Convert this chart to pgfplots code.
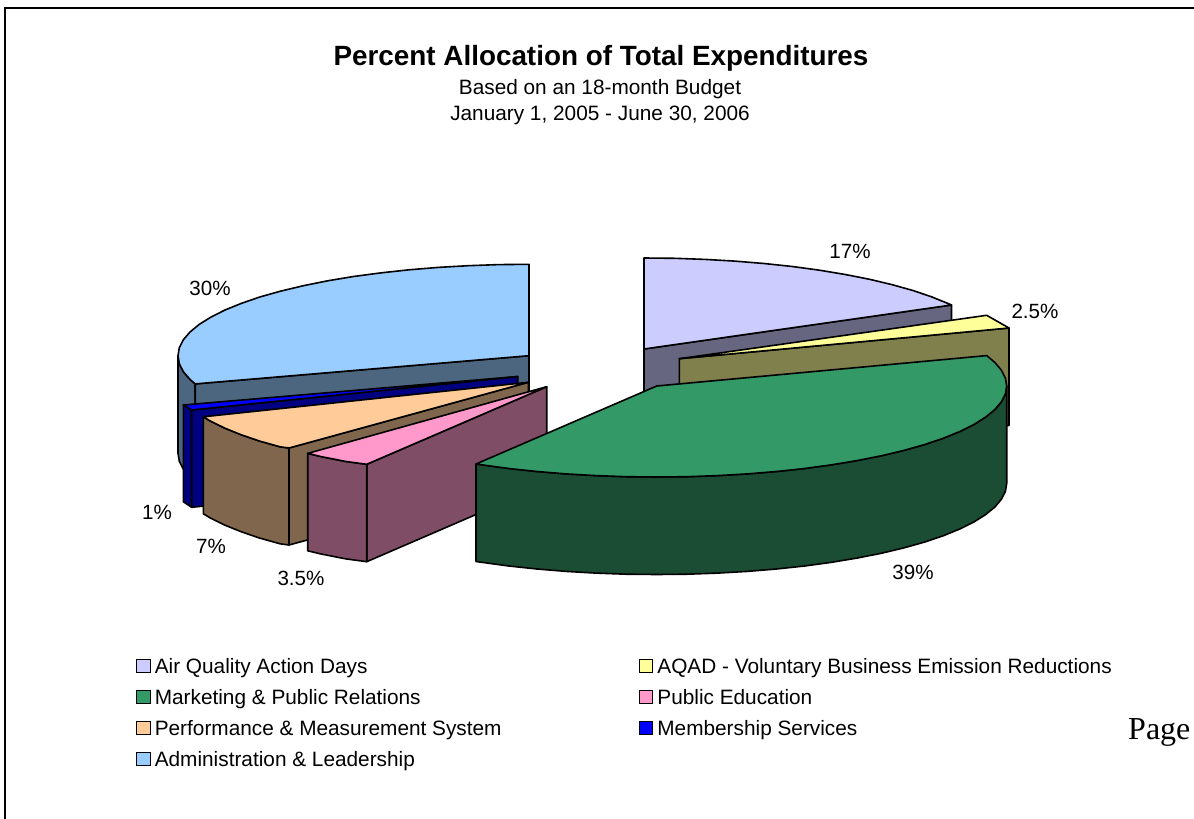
\documentclass[border=0pt]{standalone}
\usepackage{fontspec}
\usepackage{pgfplots}
\pgfplotsset{compat=1.18}
\setmainfont{Liberation Sans}
\newfontfamily\pageserif{Liberation Serif}
% slice colours and their shaded side faces
\definecolor{airtop}{HTML}{CCCCFF}\definecolor{airside}{HTML}{666680}
\definecolor{aqadtop}{HTML}{FFFF99}\definecolor{aqadside}{HTML}{80804D}
\definecolor{mkttop}{HTML}{339966}\definecolor{mktside}{HTML}{1A4D33}
\definecolor{edutop}{HTML}{FF99CC}\definecolor{eduside}{HTML}{804D66}
\definecolor{perftop}{HTML}{FFCC99}\definecolor{perfside}{HTML}{80664D}
\definecolor{memtop}{HTML}{0000FF}\definecolor{memside}{HTML}{000080}
\definecolor{admtop}{HTML}{99CCFF}\definecolor{admside}{HTML}{4D6680}
\pgfplotsset{
  slice/.style={fill=#1,draw=black,line width=1.6pt,line join=round,forget plot},
  swatch/.style={legend image code/.code={
    \draw[fill=#1,draw=black,line width=1.3pt] (0pt,-4pt) rectangle (13.5pt,9pt);}},
}
\begin{document}
\begin{tikzpicture}
\begin{axis}[
  scale only axis,width=1194pt,height=819pt,
  xmin=0,xmax=1194,ymin=0,ymax=819,y dir=reverse,
  axis lines=none,
  legend columns=2,
  legend cell align=left,
  legend style={
    at={(axis cs:136,659)},anchor=north west,draw=none,fill=none,
    font=\fontsize{20.8}{24}\selectfont,
    inner sep=0pt,outer sep=0pt,
    row sep=12.1pt,
    nodes={inner sep=0pt,anchor=west,text height=14.5pt,text depth=4pt},
    /tikz/every odd column/.append style={column sep=4pt},
    /tikz/every even column/.append style={column sep=137pt},
  },
]
% keeps the whole page inside the picture's bounding box
\addplot[draw=none,forget plot] coordinates {(0,0)(1194,819)};
% outer frame
\addplot[black,line width=2pt,forget plot] coordinates {(5,819)(5,8)(1194,8)};

% Air Quality Action Days, 17%
\addplot[slice=airside] coordinates {(644,349)(951.5,305)(951.5,402.5)(644,446.5)} -- cycle;
\addplot[slice=airtop] coordinates {(644,349)(644,258)(674.6,258.3)(705,259.4)(734.8,261.1)(764,263.5)(792.3,266.5)(819.5,270.2)(845.3,274.5)(869.6,279.3)(892.2,284.7)(912.9,290.5)(931.5,296.8)(948,303.5)(951.5,305)} -- cycle;

% Administration & Leadership, 30%
\addplot[slice=admside] coordinates {(178,355.7)(179.3,363.7)(183.3,371.6)(190,379.4)(195.2,383.9)(195.2,481.4)(190,476.9)(183.3,469.1)(179.3,461.2)(178,453.2)} -- cycle;
\addplot[slice=admside] coordinates {(195.2,383.9)(529,355.7)(529,453.2)(195.2,481.4)} -- cycle;
\addplot[slice=admtop] coordinates {(529,355.7)(529,264.3)(498.4,264.6)(468.1,265.7)(438.2,267.4)(409,269.8)(380.7,272.9)(353.5,276.5)(327.7,280.8)(303.4,285.7)(280.8,291.1)(260.1,296.9)(241.5,303.3)(225,310)(210.9,317.1)(199.2,324.4)(190,332)(183.3,339.8)(179.3,347.7)(178,355.7)(179.3,363.7)(183.3,371.6)(190,379.4)(195.2,383.9)} -- cycle;

% AQAD - Voluntary Business Emission Reductions, 2.5%
\addplot[slice=aqadside] coordinates {(679.3,358.7)(1009,328)(1009,425.5)(679.3,456.2)} -- cycle;
\addplot[slice=aqadtop] coordinates {(679.3,358.7)(986.7,315.3)(1009,328)} -- cycle;

% Membership Services, 1%
\addplot[slice=memside] coordinates {(183.3,405)(191.7,410)(191.7,507.3)(183.3,501.7)} -- cycle;
\addplot[slice=memside] coordinates {(191.7,410)(517.7,376.5)(517.7,474)(191.7,507.3)} -- cycle;
\addplot[slice=memtop] coordinates {(517.7,376.5)(183.3,405)(191.7,410)} -- cycle;

% Performance & Measurement System, 7%
\addplot[slice=perfside] coordinates {(289,448)(528.3,382.3)(528.3,479.8)(289,545)} -- cycle;
\addplot[slice=perfside] coordinates {(203.3,416.8)(210.2,420.9)(224.3,427.9)(240.8,434.6)(259.4,441)(280.1,446.8)(289,448)(289,545)(280.1,543.8)(259.4,538)(240.8,531.6)(224.3,524.9)(210.2,517.9)(203.3,513.8)} -- cycle;
\addplot[slice=perftop] coordinates {(528.3,382.3)(203.3,416.8)(210.2,420.9)(224.3,427.9)(240.8,434.6)(259.4,441)(280.1,446.8)(289,448)} -- cycle;

% Public Education, 3.5%
\addplot[slice=eduside] coordinates {(366.7,464.3)(546.7,386.7)(546.7,484)(366.7,561.7)} -- cycle;
\addplot[slice=eduside] coordinates {(307.7,453.4)(321.1,456.6)(345.4,461.4)(366.7,464.3)(366.7,561.7)(345.4,558.8)(321.1,554)(307.7,550.8)} -- cycle;
\addplot[slice=edutop] coordinates {(546.7,386.7)(307.7,453.4)(321.1,456.6)(345.4,461.4)(366.7,464.3)} -- cycle;

% Marketing & Public Relations, 39%
\addplot[slice=mktside] coordinates {(1006.7,386)(1005.4,393.9)(1001.4,401.8)(994.8,409.6)(985.6,417.1)(973.9,424.5)(959.8,431.5)(943.4,438.2)(924.8,444.5)(904.2,450.3)(881.7,455.7)(857.5,460.5)(831.7,464.8)(804.6,468.5)(776.4,471.5)(747.3,473.9)(717.5,475.6)(687.2,476.7)(656.7,477)(626.2,476.7)(595.9,475.6)(566.1,473.9)(537,471.5)(508.8,468.5)(481.7,464.8)(476,464)
  (476,561.5)(481.7,562.3)(508.8,566)(537,569)(566.1,571.4)(595.9,573.1)(626.2,574.2)(656.7,574.5)(687.2,574.2)(717.5,573.1)(747.3,571.4)(776.4,569)(804.6,566)(831.7,562.3)(857.5,558)(881.7,553.2)(904.2,547.8)(924.8,542)(943.4,535.7)(959.8,529)(973.9,522)(985.6,514.6)(994.8,507.1)(1001.4,499.3)(1005.4,491.4)(1006.7,483.5)} -- cycle;
\addplot[slice=mkttop] coordinates {(656.7,386)(986.7,355.6)(994.8,362.4)(1001.4,370.2)(1005.4,378.1)(1006.7,386)(1005.4,393.9)(1001.4,401.8)(994.8,409.6)(985.6,417.1)(973.9,424.5)(959.8,431.5)(943.4,438.2)(924.8,444.5)(904.2,450.3)(881.7,455.7)(857.5,460.5)(831.7,464.8)(804.6,468.5)(776.4,471.5)(747.3,473.9)(717.5,475.6)(687.2,476.7)(656.7,477)(626.2,476.7)(595.9,475.6)(566.1,473.9)(537,471.5)(508.8,468.5)(481.7,464.8)(476,464)} -- cycle;

% legend, in the order of the slices
\addlegendimage{swatch=airtop}\addlegendentry{Air Quality Action Days}
\addlegendimage{swatch=aqadtop}\addlegendentry{AQAD - Voluntary Business Emission Reductions}
\addlegendimage{swatch=mkttop}\addlegendentry{Marketing \& Public Relations}
\addlegendimage{swatch=edutop}\addlegendentry{Public Education}
\addlegendimage{swatch=perftop}\addlegendentry{Performance \& Measurement System}
\addlegendimage{swatch=memtop}\addlegendentry{Membership Services}
\addlegendimage{swatch=admtop}\addlegendentry{Administration \& Leadership}

% titles
\node[font=\bfseries\fontsize{27.85}{30}\selectfont] at (axis cs:601,58.5) {Percent Allocation of Total Expenditures};
\node[font=\fontsize{20.8}{24}\selectfont] at (axis cs:600,89) {Based on an 18-month Budget};
\node[font=\fontsize{20.8}{24}\selectfont] at (axis cs:600,115) {January 1, 2005 - June 30, 2006};

% slice percentages
\node[font=\fontsize{20.6}{24}\selectfont] at (axis cs:850,251) {17\%};
\node[font=\fontsize{20.6}{24}\selectfont] at (axis cs:1035,311) {2.5\%};
\node[font=\fontsize{20.6}{24}\selectfont] at (axis cs:913,572) {39\%};
\node[font=\fontsize{20.6}{24}\selectfont] at (axis cs:301,578) {3.5\%};
\node[font=\fontsize{20.6}{24}\selectfont] at (axis cs:211,546) {7\%};
\node[font=\fontsize{20.6}{24}\selectfont] at (axis cs:157,512) {1\%};
\node[font=\fontsize{20.6}{24}\selectfont] at (axis cs:210,288) {30\%};

% page footer
\node[font=\pageserif\fontsize{32}{36}\selectfont,anchor=base west,inner sep=0pt] at (axis cs:1128,739) {Page};
\end{axis}
\end{tikzpicture}
\end{document}
